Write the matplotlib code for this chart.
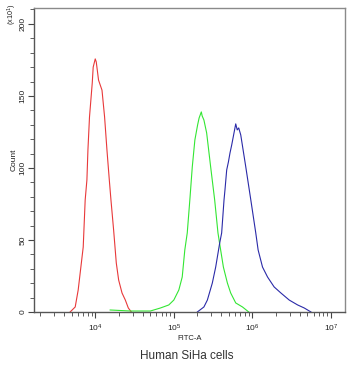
import numpy as np
from matplotlib import pyplot as plt
from matplotlib.ticker import MultipleLocator, LogLocator, NullFormatter

plt.rcParams['font.family'] = ['Liberation Sans', 'DejaVu Sans']

# log10(FITC-A) and count (x10)
red_log = [3.68, 3.745, 3.783, 3.847, 3.872, 3.894, 3.907, 3.927, 3.962, 3.974,
           4.0, 4.013, 4.042, 4.086, 4.119, 4.149, 4.179, 4.2, 4.234, 4.268,
           4.298, 4.341, 4.383, 4.421, 4.46]
red_cnt = [0, 3.5, 15.3, 45.1, 77.8, 91.7, 112.5, 135.4, 159, 170,
           175.7, 173.6, 161, 154, 135.4, 112.5, 91.7, 77.8, 56.9, 34,
           22.2, 13.2, 8.3, 2.8, 0]

green_log = [4.19, 4.447, 4.702, 4.83, 4.936, 5.0, 5.064, 5.107, 5.14, 5.171,
             5.204, 5.235, 5.268, 5.303, 5.322, 5.35, 5.361, 5.383, 5.418, 5.469,
             5.52, 5.562, 5.596, 5.631, 5.682, 5.724, 5.788, 5.874, 5.954]
green_cnt = [1.4, 0.7, 0.7, 2.8, 4.9, 8.3, 15.3, 24.3, 43.1, 54.9,
             77.8, 100.7, 119.4, 129.9, 134.7, 138.9, 136.1, 133.3, 124.3, 100.7,
             77.8, 54.9, 43.1, 31.2, 20.1, 13.2, 6.3, 3.5, 0]

blue_log = [5.299, 5.383, 5.427, 5.49, 5.533, 5.584, 5.609, 5.639, 5.651, 5.673,
            5.695, 5.715, 5.737, 5.766, 5.788, 5.807, 5.826, 5.852, 5.916, 5.98,
            6.043, 6.073, 6.129, 6.193, 6.277, 6.363, 6.469, 6.576, 6.66, 6.746]
blue_cnt = [0, 3.5, 8.3, 20.1, 31.2, 47.9, 54.9, 77.8, 84.7, 98.6,
            104.2, 110.4, 116, 124.3, 130.6, 126.4, 127.8, 122.9, 100.7, 77.8,
            54.9, 43.1, 31.2, 24.3, 17.4, 13.2, 8.3, 4.9, 2.8, 0]

fig = plt.figure(figsize=(3.5, 3.66), dpi=100)
ax = fig.add_axes([0.097, 0.1475, 0.889, 0.8305])

ax.plot(10 ** np.array(red_log), red_cnt, color='#e8393a', lw=0.8)
ax.plot(10 ** np.array(green_log), green_cnt, color='#33e633', lw=0.8)
ax.plot(10 ** np.array(blue_log), blue_cnt, color='#2a2aa8', lw=0.8)

ax.set_xscale('log')
ax.set_xlim(10 ** 3.22, 10 ** 7.18)
ax.set_ylim(0, 211)

ax.yaxis.set_major_locator(MultipleLocator(50))
ax.yaxis.set_minor_locator(MultipleLocator(10))
ax.xaxis.set_major_locator(LogLocator(base=10, numticks=10))
ax.xaxis.set_minor_locator(LogLocator(base=10, subs=np.arange(2, 10), numticks=10))
ax.xaxis.set_minor_formatter(NullFormatter())

for s in ax.spines.values():
    s.set_color('#8a8a8a')
    s.set_linewidth(1.0)
ax.spines['left'].set_color('#555555')
ax.spines['bottom'].set_color('#555555')

ax.tick_params(which='both', direction='out', color='#444444', labelsize=6, labelcolor='#222222')
ax.tick_params(which='major', length=4, width=0.8)
ax.tick_params(which='minor', length=3, width=0.6)
ax.tick_params(axis='y', labelrotation=90, pad=1.5)
for lab in ax.get_yticklabels():
    lab.set_va('center')

ax.set_xlabel('FITC-A', fontsize=5.5, color='#222222', labelpad=1)
ax.set_ylabel('Count', fontsize=6, color='#222222', labelpad=1)
fig.text(0.034, 0.96, r'(x10$^1$)', rotation=90, fontsize=5.2, color='#222222', ha='center', va='center')
fig.text(0.535, 0.026, 'Human SiHa cells', fontsize=8.5, color='#333333', ha='center', va='center')

fig.savefig('out.png', dpi=100)
